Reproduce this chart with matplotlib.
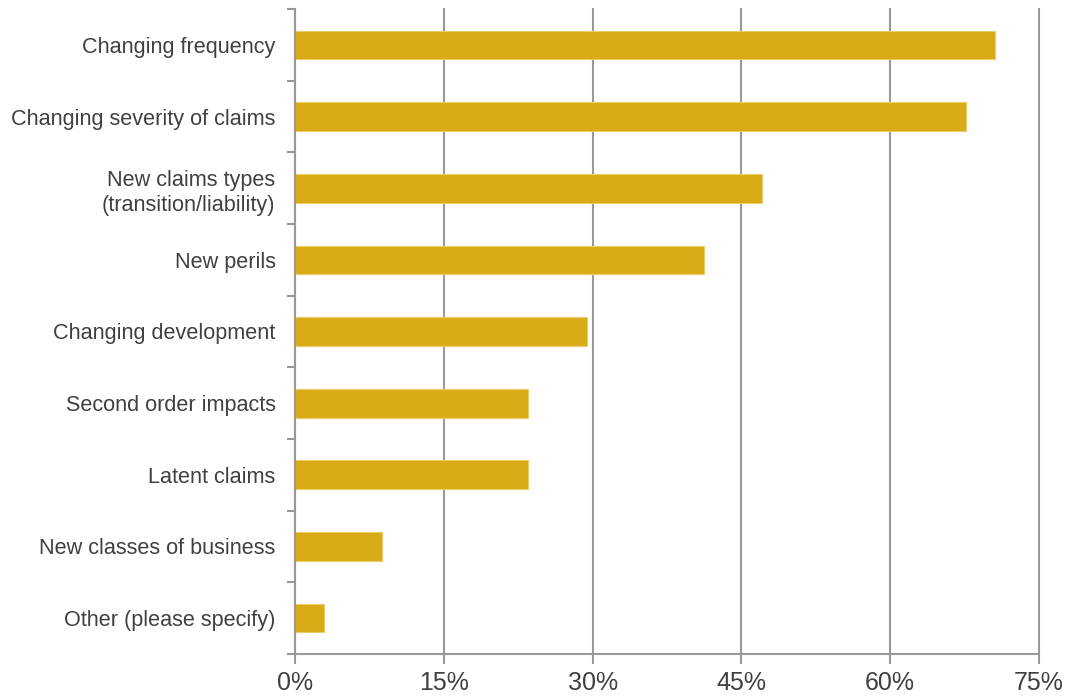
import matplotlib
matplotlib.use("Agg")
import matplotlib.pyplot as plt
from matplotlib.ticker import FixedLocator, FuncFormatter

plt.rcParams['font.family'] = ['Liberation Sans', 'DejaVu Sans']

categories = [
    "Changing frequency",
    "Changing severity of claims",
    "New claims types\n(transition/liability)",
    "New perils",
    "Changing development",
    "Second order impacts",
    "Latent claims",
    "New classes of business",
    "Other (please specify)",
]
values = [70.6, 67.6, 47.1, 41.2, 29.4, 23.5, 23.5, 8.8, 2.9]
xticks = [0, 15, 30, 45, 60, 75]

bar_color = "#D9AB16"
grid_color = "#999999"
text_color = "#404040"

fig = plt.figure(figsize=(10.67, 6.98), dpi=100)
ax = fig.add_axes([295 / 1067, 1 - 654 / 698, (1039 - 295) / 1067, (654 - 9) / 698])

n = len(categories)
ypos = list(range(n))
ax.barh(ypos, values, height=0.4, color=bar_color, edgecolor="#EBCB6A",
        linewidth=0.8, zorder=3)

ax.set_xlim(0, 75)
ax.set_ylim(n - 0.5, -0.5)

ax.xaxis.set_major_locator(FixedLocator(xticks))
ax.xaxis.set_major_formatter(FuncFormatter(lambda v, p: f"{v:.0f}%"))
ax.grid(axis="x", color=grid_color, linewidth=1.5, zorder=0)
for gl in ax.get_xgridlines():
    gl.set_clip_on(False)

# category labels centred on bars, ticks at the band boundaries
ax.set_yticks(ypos)
ax.set_yticklabels(categories, fontsize=15.6, color=text_color, ha="right",
                   multialignment="right", linespacing=1.25)
ax.tick_params(axis="y", which="major", length=0, pad=14)
ax.set_yticks([i - 0.5 for i in range(n + 1)], minor=True)
ax.tick_params(axis="y", which="minor", length=6, width=1.5, color=grid_color)

ax.tick_params(axis="x", length=7, width=1.5, color=grid_color,
               labelsize=18, labelcolor=text_color, pad=5)

for side in ["top", "right"]:
    ax.spines[side].set_visible(False)
for side in ["left", "bottom"]:
    ax.spines[side].set_color(grid_color)
    ax.spines[side].set_linewidth(1.5)
    ax.spines[side].set_zorder(4)

fig.savefig("out.png", dpi=100, facecolor="white")
